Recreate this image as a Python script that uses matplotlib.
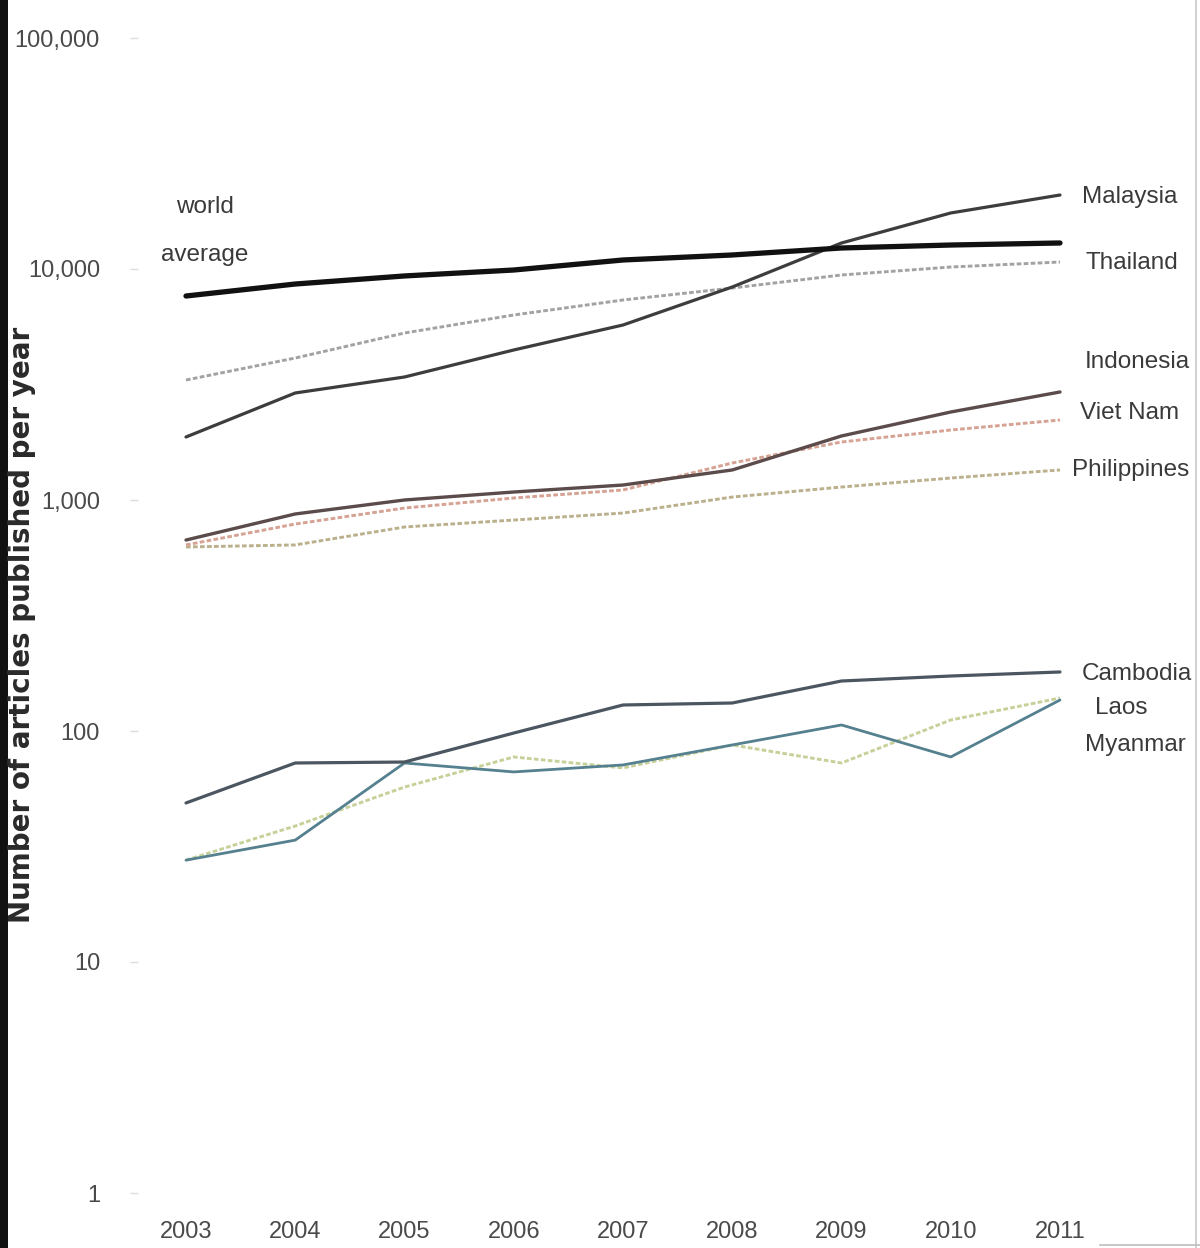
import matplotlib
matplotlib.use("Agg")
import matplotlib.pyplot as plt
from matplotlib import font_manager
from matplotlib.lines import Line2D
from matplotlib.patches import Rectangle

# ---- data: scientific articles published per year (log scale) ----
years = [2003, 2004, 2005, 2006, 2007, 2008, 2009, 2010, 2011]

world_average = [7640, 8610, 9330, 9900, 10940, 11500, 12330, 12700, 12960]
malaysia = [1874, 2906, 3408, 4461, 5722, 8358, 12960, 17480, 20910]
thailand = [3307, 4118, 5284, 6323, 7341, 8273, 9420, 10200, 10720]
indonesia = [671, 870, 1000, 1083, 1161, 1349, 1893, 2404, 2935]
viet_nam = [639, 787, 923, 1020, 1105, 1446, 1783, 2009, 2220]
philippines = [626, 639, 764, 819, 878, 1030, 1138, 1245, 1349]
cambodia = [48.8, 72.7, 73.4, 98.0, 129.6, 132.2, 164.6, 173.0, 180.1]
laos = [27.6, 38.8, 57.2, 77.2, 69.2, 87.0, 72.7, 111.6, 138.9]
myanmar = [27.6, 33.7, 72.7, 66.5, 71.3, 87.0, 106.2, 77.2, 136.2]

y_ticks = [1, 10, 100, 1000, 10000, 100000]
y_tick_labels = ["1", "10", "100", "1,000", "10,000", "100,000"]
y_title = "Number of articles published per year"

# ---- fonts: prefer a narrow face when one is installed ----
installed = {f.name for f in font_manager.fontManager.ttflist}
if "Liberation Sans Narrow" in installed:
    face = ["Liberation Sans Narrow", "DejaVu Sans"]
    tick_size, label_size = 20, 21
elif "Liberation Sans" in installed:
    face = ["Liberation Sans", "DejaVu Sans"]
    tick_size, label_size = 17, 17.5
else:
    face = ["DejaVu Sans"]
    tick_size, label_size = 15, 16
title_size = 20

W, H, DPI = 1200, 1248, 100
fig = plt.figure(figsize=(W / DPI, H / DPI), dpi=DPI)
fig.patch.set_facecolor("white")

def px_to_pt(p):
    return p * 72.0 / DPI

# axes placed so that decades and years land on their pixel rows/columns
ax_left, ax_right = 130, 1070
ax_top, ax_bottom = 38, 1193
ax = fig.add_axes([ax_left / W, 1 - ax_bottom / H,
                   (ax_right - ax_left) / W, (ax_bottom - ax_top) / H])
ax.set_yscale("log")
ax.set_ylim(1, 100000)
x0 = 2003 - (186 - ax_left) / 109.25
x1 = 2011 + (ax_right - 1060) / 109.25
ax.set_xlim(x0, x1)

for s in ax.spines.values():
    s.set_visible(False)

dotted = (0, (1.6, 0.8))
series = [
    # (values, colour, width, dash)
    (laos, "#c6d19a", 2.1, dotted),
    (philippines, "#bbb08c", 2.1, dotted),
    (viet_nam, "#d6a293", 2.1, dotted),
    (thailand, "#a2a2a2", 2.1, dotted),
    (myanmar, "#55808f", 2.0, "-"),
    (cambodia, "#4b5660", 2.3, "-"),
    (indonesia, "#5b4b4a", 2.4, "-"),
    (malaysia, "#3d3d3d", 2.3, "-"),
    (world_average, "#111111", 3.8, "-"),
]
for vals, col, lw, ls in series:
    ax.plot(years, vals, color=col, lw=lw, linestyle=ls,
            solid_capstyle="round", dash_capstyle="butt")

ax.set_yticks(y_ticks)
ax.set_yticklabels(y_tick_labels)
ax.yaxis.set_minor_locator(matplotlib.ticker.NullLocator())
ax.set_xticks(years)
ax.set_xticklabels([str(y) for y in years])
ax.tick_params(axis="y", length=6, width=1, color="#dddddd", direction="in",
               pad=px_to_pt(30), labelsize=tick_size, labelcolor="#4a4a4a")
ax.tick_params(axis="x", length=0, pad=px_to_pt(28),
               labelsize=tick_size, labelcolor="#4a4a4a")
for lab in ax.get_xticklabels() + ax.get_yticklabels():
    lab.set_family(face)

# ---- series names at the line ends ----
def tag(text, vals, idx, dx_px, dy_px, ha="left"):
    ax.annotate(text, (years[idx], vals[idx]), xytext=(px_to_pt(dx_px), px_to_pt(dy_px)),
                textcoords="offset points", ha=ha, va="center",
                fontsize=label_size, color="#3a3a3a", family=face)

tag("Malaysia", malaysia, -1, 22, -2)
tag("Thailand", thailand, -1, 25, -1)
tag("Indonesia", indonesia, -1, 25, 30)
tag("Viet Nam", viet_nam, -1, 20, 7)
tag("Philippines", philippines, -1, 12, 0)
tag("Cambodia", cambodia, -1, 22, -2)
tag("Laos", laos, -1, 35, -10)
tag("Myanmar", myanmar, -1, 25, -45)
tag("world", world_average, 0, 19, 89, ha="center")
tag("average", world_average, 0, 19, 41, ha="center")

fig.text(22 / W, 1 - 625 / H, y_title, rotation=90, ha="center", va="center",
         fontsize=title_size, fontweight="bold", color="#2a2a2a", family="DejaVu Sans")

# ---- page edges ----
fig.add_artist(Rectangle((0, 0), 8 / W, 1, transform=fig.transFigure,
                         facecolor="#111111", edgecolor="none"))
fig.add_artist(Line2D([1196 / W, 1196 / W], [0, 1], transform=fig.transFigure,
                      color="#c8c8c8", lw=1.2))
fig.add_artist(Line2D([1100 / W, 1], [3 / H, 3 / H], transform=fig.transFigure,
                      color="#bdbdbd", lw=1.2))

fig.savefig("out.png", dpi=DPI, facecolor="white")
